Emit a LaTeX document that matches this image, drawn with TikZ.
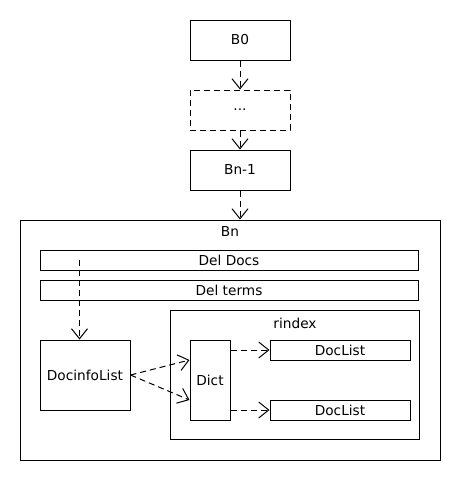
\documentclass[tikz,border=0pt]{standalone}
\usepackage{fontspec}
\setmainfont{DejaVu Sans}
\usetikzlibrary{arrows.meta}
\begin{document}
\begin{tikzpicture}[x=1pt,y=-1pt,
  box/.style={draw,line width=1pt,inner sep=0pt,align=center,font=\fontsize{13.7}{16}\selectfont},
  lbl/.style={inner sep=0pt,font=\fontsize{13.7}{16}\selectfont},
  dasharrow/.style={line width=1pt,dash pattern=on 6pt off 4pt,-{Straight Barb[length=10pt,width=16pt,line width=1pt]}}]
\useasboundingbox (0,0) rectangle (460,480);
\node[box,minimum width=100pt,minimum height=40pt] (b0) at (240,40) {B0};
\node[box,dash pattern=on 6pt off 4pt,minimum width=100pt,minimum height=40pt] (dots) at (240,110) {...};
\node[box,minimum width=100pt,minimum height=40pt] (bn1) at (240,170) {Bn-1};
\node[box,minimum width=420pt,minimum height=240pt] (bn) at (230,340) {};
\node[lbl] (bnl) at (230,232) {Bn};
\node[box,minimum width=378pt,minimum height=20pt] (deldocs) at (229,260) {Del Docs};
\node[box,minimum width=378pt,minimum height=20pt] (delterms) at (229,290) {Del terms};
\node[box,minimum width=90pt,minimum height=70pt] (docinfo) at (85,375) {DocinfoList};
\node[box,minimum width=249pt,minimum height=129pt] (rindex) at (294.5,374.5) {};
\node[lbl] (rl) at (295,323) {rindex};
\node[box,minimum width=40pt,minimum height=80pt] (dict) at (210,380) {Dict};
\node[box,minimum width=140pt,minimum height=20pt] (dl1) at (340,350) {DocList};
\node[box,minimum width=140pt,minimum height=20pt] (dl2) at (340,410) {DocList};
\coordinate (s) at ([xshift=40pt]deldocs.west);
\draw[dasharrow] (b0.south) -- (dots.north);
\draw[dasharrow] (dots.south) -- (bn1.north);
\draw[dasharrow] (bn1.south) -- (bn1.south |- bn.north);
\draw[dasharrow] (s) -- (s |- docinfo.north);
\draw[dasharrow] (docinfo.east) -- ([yshift=20pt]dict.west);
\draw[dasharrow] (docinfo.east) -- ([yshift=-20pt]dict.west);
\draw[dasharrow] (dict.east |- dl1.west) -- (dl1.west);
\draw[dasharrow] (dict.east |- dl2.west) -- (dl2.west);
\end{tikzpicture}
\end{document}
